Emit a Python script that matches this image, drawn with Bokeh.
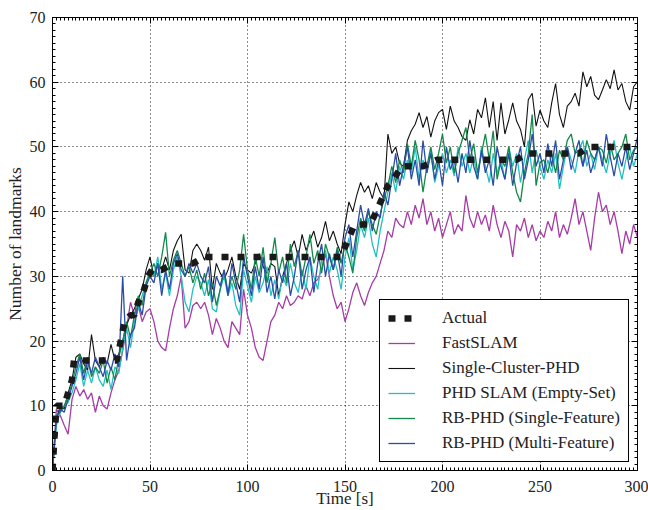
from bokeh.plotting import figure
from bokeh.models import (ColumnDataSource, Legend, LegendItem, LinearAxis,
                          Range1d, SingleIntervalTicker, CustomJSTickFormatter)
from bokeh.embed import file_html
from bokeh.resources import INLINE

# time stamps of the estimates [s]
time_s = list(range(0, 301, 2))

# ground-truth landmark count (breakpoints of the piecewise path)
actual_t = [0, 2, 6, 8, 10, 11, 33, 35, 37, 40, 42, 44, 47, 49, 51, 56, 62, 72, 78,
            148, 152, 155, 163, 166, 169, 172, 175, 179, 183, 190, 197, 238, 243,
            270, 275, 300]
actual_n = [0, 10, 10, 12, 14, 17, 17, 20, 23, 24, 24, 26, 28, 30, 31, 31, 32, 32, 33,
            33, 36, 38, 38, 40, 42, 44, 45, 47, 47, 47, 48, 48, 49,
            49, 50, 50]

fastslam = [
    0, 9.5, 8.5, 7, 5.6, 11, 13, 11.5, 12.5, 11,
    12, 9, 11.5, 10, 9.5, 12, 14, 15.5, 18.5, 22,
    26, 24, 25.5, 23, 24.5, 25, 23, 20, 19, 18.5,
    22, 25, 27, 30, 22, 23, 25.5, 26, 25, 26,
    24, 21, 23.5, 22, 20, 19, 23, 22, 21, 28,
    24, 22, 19, 17.5, 17, 20, 23, 24, 26, 25,
    27, 25.5, 26, 27, 26.5, 28.5, 27, 29, 29.5, 31,
    33.5, 30, 27, 25, 26, 23, 25, 27.5, 29, 27,
    25.5, 27.5, 29, 30, 32, 34, 37, 36, 39, 38,
    37.5, 40, 38, 41, 39, 42, 38, 40, 37, 39,
    36, 38, 40, 36.5, 38, 37, 42.5, 39, 37.5, 40,
    38, 39.5, 37, 41, 38, 36, 38.5, 37, 33, 38,
    37, 39, 36, 38, 35.5, 37, 36, 38.5, 37, 40,
    36, 38, 36.5, 39, 42, 38, 40, 37, 34, 39,
    43, 40, 41, 38, 40, 37, 33.5, 37, 35, 38,
    36]

single_cluster = [
    0, 8, 10, 9.5, 12, 14, 17.5, 18, 16.5, 15.5,
    21, 17, 16, 17.5, 16.5, 19.5, 17, 18, 20, 22.5,
    24, 25, 26.5, 28, 31, 33, 30, 32, 31, 33,
    31, 34, 35.5, 36.5, 31, 30.5, 34, 35, 34, 32.5,
    34.5, 28, 32, 30.5, 29.5, 31, 33, 30, 28, 32,
    31, 30.5, 32, 33.5, 31.5, 30.5, 32, 31.5, 27, 30,
    32, 34, 35.5, 33, 36.5, 34, 35.5, 37, 34.5, 36,
    38.5, 35.5, 37, 35, 33.5, 38, 41.5, 40, 42.5, 44.5,
    43, 44, 42, 44.5, 43, 42, 52, 49, 50, 47.5,
    47, 51, 52.5, 53.5, 55.3, 53, 54.7, 51.5, 54, 55.3,
    55.8, 52.7, 56.3, 54, 53, 51.6, 51, 54.2, 52, 55.8,
    54.5, 57.6, 53, 57, 51, 56.8, 52, 54.2, 56.8, 54,
    52.7, 50, 57.3, 58.3, 53.2, 55.7, 54, 53, 56.8, 59.8,
    55, 53, 56.3, 57, 58.3, 56.3, 61.6, 59.3, 60.9, 58,
    57.3, 58.8, 60.4, 59, 61.9, 58.8, 59.8, 57, 55.7, 59.3,
    60.1]

phd_empty_set = [
    0, 7, 9, 10, 10.5, 12, 14, 16.5, 13, 15.5,
    13.5, 16, 14, 13, 15.5, 12.5, 16, 15, 19, 22,
    19, 23, 25, 27, 29, 31, 30, 33, 28, 30.5,
    27, 31, 33, 30, 26, 24.5, 28, 30, 29, 27,
    29.5, 25, 24.5, 28, 30, 27, 29, 25.5, 24, 31,
    28.5, 26, 30, 27.5, 29, 31.5, 27, 29.5, 26.5, 30,
    28.5, 32, 29, 27.5, 31, 28, 33, 30, 28, 32.5,
    34, 30.5, 33, 31, 28, 33, 36, 31, 34, 38,
    36, 39, 35, 33, 37, 40, 43, 46, 43, 47,
    45, 48, 46, 50, 45, 48, 46, 49.5, 44.5, 47,
    49, 46, 48, 45.5, 50, 47, 49, 46, 48.5, 45,
    50, 47, 44.5, 49, 46, 48, 45, 50, 47, 49,
    44.5, 48, 51, 46, 49.5, 47, 45, 48, 46, 49,
    43.5, 47, 50, 48, 46, 49.5, 51, 47, 49, 46.5,
    50, 48, 46, 49, 51, 47.5, 45, 48, 50, 47,
    49]

rb_single = [
    0, 8.5, 9, 10, 11.5, 13.5, 16, 18, 15, 17.5,
    14.5, 16, 15, 17, 13.5, 16, 14, 17.5, 20, 23,
    20.5, 24, 27, 25.5, 29, 30.5, 32, 30, 33, 36.8,
    30, 32.5, 34, 32, 30, 31.5, 29, 31, 28, 30.5,
    27, 29, 25.5, 28, 31, 27.5, 30, 28, 31, 36.5,
    31, 28, 33, 30, 34.5, 29, 32, 36, 30.5, 33,
    29, 35, 31.5, 34, 30, 33, 36.5, 32, 34, 30.5,
    35, 33, 31, 34.5, 32, 35, 33, 30.5, 36, 39,
    37, 40, 38, 36.5, 39.5, 42, 44, 47, 44.5, 48,
    46, 50.5, 47, 51, 48, 43, 47, 50, 46.5, 49,
    52, 47.5, 50, 46, 49, 51, 53, 48, 50.5, 46,
    49, 52, 48, 52.5, 45, 48, 47, 50, 46, 43,
    41.5, 46, 49, 55, 44, 47.5, 48, 46, 49, 46,
    49.5, 48, 51, 52, 49, 49.5, 47, 51, 49, 48,
    50, 49.5, 47.5, 50.5, 48, 49, 50, 52, 48, 49.5,
    50]

rb_multi = [
    0, 8, 9.5, 9, 11, 13, 15, 17.5, 14, 17,
    15, 17.5, 16, 14.5, 17, 15.5, 18, 16, 30, 17,
    21, 22, 26, 24, 28.5, 30, 29, 32, 27, 31,
    28, 32, 33.5, 31, 30, 32, 30.5, 32, 30, 29,
    31.5, 26, 30, 28.5, 31, 27, 32, 29, 26, 33,
    30, 27, 31.5, 28, 33, 27.5, 30, 26.5, 31, 29,
    32, 27, 30, 34, 28, 31, 33, 27.5, 32, 35,
    30, 33.5, 31, 34, 30, 36, 38, 33, 37, 41,
    38, 40.5, 37, 40, 39, 43, 41, 45, 49, 44,
    47, 50, 45, 48, 44, 51, 46, 49, 45, 48,
    44, 50, 46.5, 48, 44.5, 49, 46, 51, 47, 45,
    49.5, 46, 48, 44, 50, 47, 45, 49, 44, 47.5,
    50, 45, 48, 52, 47, 49, 46, 50.5, 47, 51,
    45, 48, 50, 46.5, 49, 51, 47, 49.5, 46, 48,
    50, 47, 52, 48.5, 45.5, 49, 47, 50, 46.5, 49,
    51.5]

x_ticks_interval = 50
y_ticks_interval = 10

SERIF = "Liberation Serif"

p = figure(width=648, height=510, output_backend="svg", toolbar_location=None,
           x_range=Range1d(0, 300), y_range=Range1d(0, 70),
           min_border_left=52, min_border_right=11, min_border_top=17,
           min_border_bottom=40)
p.background_fill_color = "white"
p.border_fill_color = "white"
p.outline_line_color = "black"
p.outline_line_width = 1

xt = SingleIntervalTicker(interval=x_ticks_interval, num_minor_ticks=25)
yt = SingleIntervalTicker(interval=y_ticks_interval, num_minor_ticks=10)

def style_axis(ax, ticker, labels=True):
    ax.ticker = ticker
    ax.axis_line_color = "black"
    ax.major_tick_in = 6
    ax.major_tick_out = 0
    ax.minor_tick_in = 3
    ax.minor_tick_out = 0
    ax.major_tick_line_color = "black"
    ax.minor_tick_line_color = "black"
    if labels:
        ax.major_label_text_font = SERIF
        ax.major_label_text_font_size = "16px"
        ax.major_label_text_color = "#222222"
    else:
        # tick marks only on the top and right edges
        ax.formatter = CustomJSTickFormatter(code="return ''")
        ax.major_label_standoff = 0

style_axis(p.xaxis[0], xt)
style_axis(p.yaxis[0], yt)

xa = p.xaxis[0]
xa.major_label_standoff = 10
xa.axis_label = "Time [s]"
xa.axis_label_text_font = SERIF
xa.axis_label_text_font_size = "17px"
xa.axis_label_text_font_style = "normal"
xa.axis_label_text_color = "#222222"
xa.axis_label_standoff = -6

ya = p.yaxis[0]
ya.major_label_standoff = 7
ya.axis_label = "Number of landmarks"
ya.axis_label_text_font = SERIF
ya.axis_label_text_font_size = "17.5px"
ya.axis_label_text_font_style = "normal"
ya.axis_label_text_color = "#222222"
ya.axis_label_standoff = 2

top_ax = LinearAxis()
style_axis(top_ax, SingleIntervalTicker(interval=x_ticks_interval, num_minor_ticks=25), labels=False)
p.add_layout(top_ax, "above")
right_ax = LinearAxis()
style_axis(right_ax, SingleIntervalTicker(interval=y_ticks_interval, num_minor_ticks=10), labels=False)
p.add_layout(right_ax, "right")

for g in (p.xgrid[0], p.ygrid[0]):
    g.grid_line_color = "black"
    g.grid_line_dash = "1 3"
    g.grid_line_width = 1
    g.grid_line_alpha = 0.9
p.xgrid[0].ticker = xt
p.ygrid[0].ticker = yt

src = ColumnDataSource(dict(t=time_s, fast=fastslam, scp=single_cluster,
                            empty=phd_empty_set, single=rb_single, multi=rb_multi))
act = ColumnDataSource(dict(t=actual_t, n=actual_n))

r_fast = p.line("t", "fast", source=src, line_color="#a63ca6", line_width=1.3)
r_scp = p.line("t", "scp", source=src, line_color="#111111", line_width=1.1)
r_empty = p.line("t", "empty", source=src, line_color="#22c0c0", line_width=1.3)
r_single = p.line("t", "single", source=src, line_color="#14884a", line_width=1.3)
r_multi = p.line("t", "multi", source=src, line_color="#2b4ca8", line_width=1.3)
r_act = p.line("t", "n", source=act, line_color="#1a1a1a", line_width=6.5,
               line_dash="7 9", line_cap="butt")

legend = Legend(items=[
    LegendItem(label="Actual", renderers=[r_act]),
    LegendItem(label="FastSLAM", renderers=[r_fast]),
    LegendItem(label="Single-Cluster-PHD", renderers=[r_scp]),
    LegendItem(label="PHD SLAM (Empty-Set)", renderers=[r_empty]),
    LegendItem(label="RB-PHD (Single-Feature)", renderers=[r_single]),
    LegendItem(label="RB-PHD (Multi-Feature)", renderers=[r_multi]),
], location="bottom_right")
legend.margin = 8
legend.padding = 8
legend.spacing = 5
legend.glyph_width = 27
legend.glyph_height = 20
legend.label_height = 20
legend.label_standoff = 27
legend.label_text_font = SERIF
legend.label_text_font_size = "17px"
legend.label_text_color = "#222222"
legend.border_line_color = "black"
legend.border_line_width = 1
legend.border_line_alpha = 1
legend.background_fill_color = "white"
legend.background_fill_alpha = 1
p.add_layout(legend)

open("out.html", "w").write(file_html(p, INLINE))
